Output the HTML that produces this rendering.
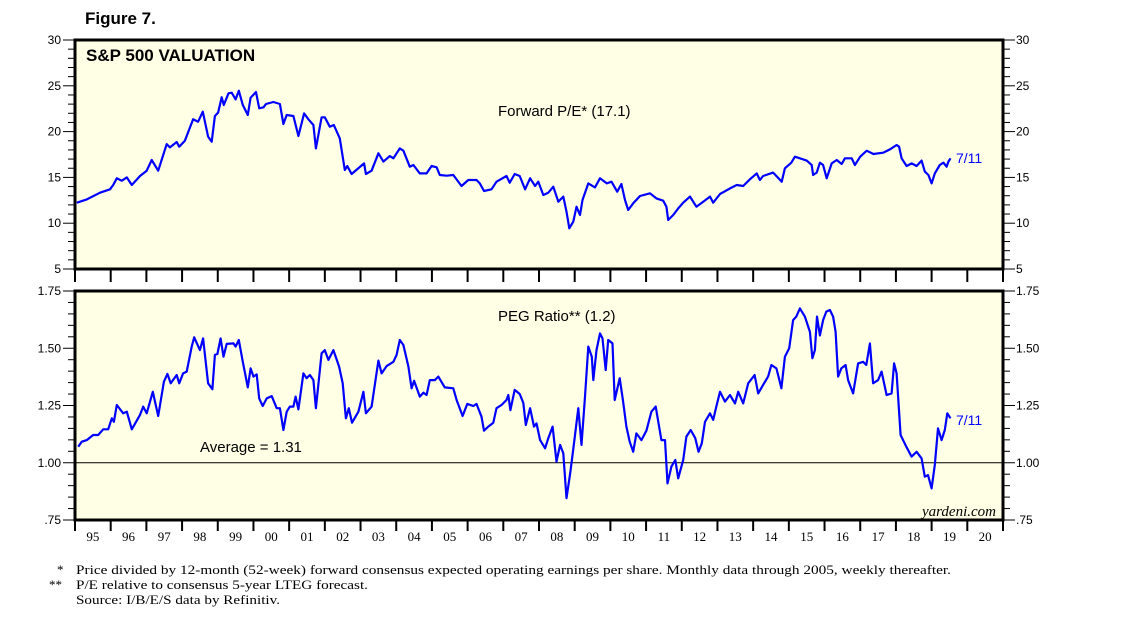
<!DOCTYPE html>
<html><head><meta charset="utf-8"><style>
html,body{margin:0;padding:0;background:#fff;}
svg{display:block;font-family:"Liberation Sans",sans-serif;}
</style></head><body>
<svg id="chart" width="1138" height="621" viewBox="0 0 1138 621" xmlns="http://www.w3.org/2000/svg">
<text x="85" y="24" font-size="17" font-weight="bold">Figure 7.</text>
<g id="topPanel"></g><g id="botPanel"></g><g id="yearAxis"></g>
<text x="57" y="574" font-family="Liberation Serif" font-size="13">*</text>
<text x="76" y="574" font-family="Liberation Serif" font-size="13" textLength="875" lengthAdjust="spacingAndGlyphs">Price divided by 12-month (52-week) forward consensus expected operating earnings per share. Monthly data through 2005, weekly thereafter.</text>
<text x="49" y="589" font-family="Liberation Serif" font-size="13">**</text>
<text x="76" y="589" font-family="Liberation Serif" font-size="13" textLength="292" lengthAdjust="spacingAndGlyphs">P/E relative to consensus 5-year LTEG forecast.</text>
<text x="76" y="604" font-family="Liberation Serif" font-size="13" textLength="204" lengthAdjust="spacingAndGlyphs">Source: I/B/E/S data by Refinitiv.</text>
</svg>
<script>
const peDates=[0.05,0.33,0.70,0.98,1.07,1.17,1.31,1.45,1.59,1.82,2.01,2.15,2.33,2.57,2.66,2.85,2.92,3.08,3.31,3.45,3.58,3.73,3.83,3.92,4.01,4.11,4.17,4.30,4.39,4.50,4.59,4.70,4.84,4.92,5.07,5.16,5.28,5.35,5.56,5.74,5.84,5.93,6.12,6.26,6.42,6.54,6.68,6.75,6.91,7.00,7.14,7.25,7.42,7.56,7.63,7.75,8.10,8.15,8.31,8.50,8.64,8.82,8.92,9.10,9.20,9.38,9.48,9.66,9.85,9.99,10.13,10.22,10.41,10.60,10.83,11.02,11.25,11.34,11.46,11.67,11.81,12.09,12.18,12.32,12.46,12.61,12.75,12.89,12.98,13.12,13.26,13.40,13.54,13.68,13.77,13.85,13.96,14.05,14.15,14.22,14.38,14.57,14.71,14.90,15.03,15.19,15.31,15.41,15.50,15.64,15.83,16.11,16.29,16.48,16.57,16.62,16.76,16.90,17.04,17.23,17.41,17.60,17.79,17.88,18.07,18.35,18.54,18.72,18.91,19.10,19.19,19.28,19.56,19.65,19.80,19.89,20.07,20.17,20.50,20.64,20.68,20.78,20.87,20.96,21.06,21.20,21.34,21.48,21.57,21.76,21.85,22.00,22.18,22.37,22.64,22.83,23.02,23.09,23.16,23.30,23.44,23.58,23.72,23.81,23.91,24.00,24.09,24.23,24.33,24.42,24.47,24.53];
const peValues=[12.24,12.60,13.33,13.70,14.17,14.90,14.64,15.00,14.17,15.15,15.73,16.90,15.73,18.64,18.28,18.86,18.35,19.01,21.34,21.08,22.17,19.45,18.90,21.70,22.07,23.74,22.90,24.18,24.25,23.52,24.47,22.90,21.81,23.70,24.32,22.54,22.65,23.01,23.23,23.01,20.83,21.81,21.70,19.52,21.99,21.34,20.72,18.17,21.56,21.56,20.54,20.72,19.26,15.81,16.24,15.37,16.53,15.37,15.73,17.63,16.72,17.33,17.08,18.17,17.92,16.17,16.35,15.44,15.44,16.24,16.10,15.26,15.19,15.26,14.06,14.72,14.72,14.35,13.51,13.70,14.53,15.15,14.42,15.37,15.15,13.70,14.90,14.06,14.53,13.08,13.33,13.99,12.35,12.90,11.26,9.44,10.17,11.80,10.89,12.53,14.35,13.91,14.90,14.35,14.53,13.44,14.28,12.53,11.44,12.17,12.97,13.26,12.71,12.46,11.80,10.35,10.89,11.62,12.24,12.90,11.80,12.35,12.90,12.24,13.19,13.80,14.17,14.06,14.79,15.44,14.72,15.15,15.52,15.15,14.53,15.99,16.61,17.26,16.83,16.35,15.26,15.52,16.61,16.35,14.90,16.53,16.90,16.46,17.08,17.08,16.35,17.26,17.92,17.55,17.70,18.06,18.54,18.35,17.08,16.24,16.53,16.24,16.83,15.63,15.26,14.35,15.44,16.35,16.61,16.17,16.72,17.08];
const pegDates=[0.09,0.19,0.33,0.51,0.65,0.79,0.93,1.03,1.09,1.17,1.35,1.45,1.59,1.82,1.91,2.01,2.18,2.33,2.49,2.59,2.68,2.85,2.92,3.03,3.13,3.27,3.34,3.50,3.59,3.73,3.85,3.92,3.99,4.08,4.16,4.25,4.44,4.50,4.59,4.70,4.84,4.92,5.00,5.09,5.16,5.26,5.37,5.51,5.65,5.74,5.84,5.93,6.02,6.12,6.18,6.26,6.40,6.49,6.58,6.68,6.75,6.91,7.00,7.10,7.24,7.40,7.50,7.59,7.67,7.76,7.94,8.08,8.15,8.31,8.50,8.59,8.73,8.92,9.01,9.10,9.20,9.34,9.43,9.50,9.66,9.76,9.85,9.94,10.08,10.18,10.36,10.60,10.69,10.86,10.99,11.16,11.25,11.39,11.46,11.58,11.72,11.81,11.95,12.09,12.14,12.20,12.32,12.46,12.56,12.63,12.75,12.86,12.93,13.03,13.17,13.26,13.38,13.49,13.59,13.68,13.77,13.88,13.98,14.10,14.19,14.29,14.38,14.48,14.52,14.61,14.71,14.78,14.87,14.94,15.06,15.12,15.26,15.35,15.45,15.54,15.64,15.73,15.87,16.01,16.15,16.27,16.43,16.53,16.60,16.71,16.82,16.90,17.04,17.13,17.25,17.38,17.47,17.56,17.65,17.79,17.88,17.98,18.07,18.21,18.35,18.49,18.58,18.72,18.86,19.04,19.14,19.28,19.42,19.51,19.65,19.72,19.79,19.89,20.01,20.12,20.21,20.31,20.45,20.59,20.66,20.73,20.79,20.87,20.96,21.05,21.15,21.24,21.31,21.38,21.47,21.59,21.66,21.80,21.94,22.08,22.17,22.27,22.36,22.50,22.60,22.74,22.88,22.95,23.02,23.13,23.29,23.44,23.58,23.72,23.81,23.90,24.00,24.09,24.18,24.28,24.37,24.44,24.53];
const pegValues=[1.070,1.092,1.099,1.121,1.121,1.146,1.146,1.194,1.179,1.252,1.216,1.223,1.146,1.209,1.245,1.216,1.310,1.204,1.354,1.388,1.347,1.383,1.347,1.390,1.398,1.507,1.548,1.492,1.543,1.347,1.321,1.471,1.475,1.543,1.463,1.519,1.521,1.507,1.536,1.441,1.329,1.412,1.376,1.386,1.281,1.248,1.281,1.291,1.238,1.238,1.143,1.223,1.245,1.245,1.289,1.233,1.390,1.369,1.383,1.361,1.238,1.478,1.492,1.449,1.492,1.420,1.347,1.194,1.238,1.175,1.223,1.310,1.216,1.245,1.446,1.390,1.422,1.441,1.471,1.536,1.514,1.420,1.325,1.358,1.289,1.306,1.296,1.361,1.361,1.376,1.329,1.325,1.274,1.204,1.257,1.248,1.257,1.201,1.140,1.158,1.175,1.238,1.252,1.274,1.296,1.230,1.318,1.300,1.262,1.165,1.238,1.158,1.172,1.099,1.063,1.107,1.158,1.005,1.078,1.041,0.845,0.961,1.085,1.238,1.078,1.289,1.507,1.463,1.361,1.492,1.565,1.543,1.405,1.536,1.521,1.274,1.369,1.274,1.158,1.092,1.048,1.128,1.099,1.140,1.223,1.245,1.099,1.099,0.910,0.983,1.012,0.932,1.012,1.114,1.143,1.107,1.048,1.085,1.179,1.216,1.187,1.252,1.310,1.267,1.296,1.259,1.310,1.259,1.347,1.383,1.303,1.340,1.376,1.427,1.412,1.369,1.325,1.463,1.500,1.623,1.638,1.674,1.638,1.572,1.456,1.492,1.638,1.556,1.623,1.660,1.667,1.638,1.572,1.376,1.412,1.427,1.361,1.303,1.434,1.441,1.427,1.521,1.347,1.361,1.398,1.296,1.303,1.434,1.390,1.121,1.070,1.027,1.048,1.019,0.939,0.946,0.888,0.990,1.150,1.099,1.143,1.216,1.194];
const yearLabels=["95","96","97","98","99","00","01","02","03","04","05","06","07","08","09","10","11","12","13","14","15","16","17","18","19","20"];
const peTicks=[5,10,15,20,25,30];
const pegTicks=[0.75,1.00,1.25,1.50,1.75];
const pegAverage=1.0;

const NS="http://www.w3.org/2000/svg";
const L=75,R=1003,YW=(R-L)/26;
function xs(t){return L+t*YW;}
function mk(parent,tag,attrs,text){const e=document.createElementNS(NS,tag);for(const k in attrs)e.setAttribute(k,attrs[k]);if(text!==undefined)e.textContent=text;parent.appendChild(e);return e;}
function panel(g,y0,y1,min,max,minorStep,ticks,fmt,name){
  const ys=v=>y1-(v-min)/(max-min)*(y1-y0);
  const bg=mk(g,'rect',{x:L,y:y0,width:R-L,height:y1-y0,fill:'#ffffe6'});
  
  
  const n=Math.round((max-min)/minorStep);
  for(let i=0;i<=n;i++){const v=min+i*minorStep,y=ys(v);const major=ticks.some(t=>Math.abs(t-v)<1e-6);const len=major?12:7;
    mk(g,'line',{x1:L-len,x2:L,y1:y,y2:y,stroke:'#000','stroke-width':1});
    mk(g,'line',{x1:R,x2:R+len,y1:y,y2:y,stroke:'#000','stroke-width':1});}
  ticks.forEach(t=>{const y=ys(t);
    const a=mk(g,'text',{x:L-14,y:y+4,'font-size':12,'text-anchor':'end'},fmt(t));
    
    
    const b=mk(g,'text',{x:R+13,y:y+4,'font-size':12},fmt(t));
    
    });
  return ys;
}
function series(g,ys,dates,vals,name){
  const d=dates.map((t,i)=>(i?'L':'M')+xs(t).toFixed(1)+','+ys(vals[i]).toFixed(1)).join('');
  const p=mk(g,'path',{d:d,fill:'none',stroke:'#0000ff','stroke-width':2.2,'stroke-linejoin':'round'});
  
  
}
const gTop=document.getElementById('topPanel'),gBot=document.getElementById('botPanel'),gYears=document.getElementById('yearAxis');
const ysTop=panel(gTop,40,269,5,30,1,peTicks,v=>String(v),'pe');
series(gTop,ysTop,peDates,peValues,'forward-pe-line');
mk(gTop,'rect',{x:L,y:40,width:R-L,height:229,fill:'none',stroke:'#000','stroke-width':3});
let t1=mk(gTop,'text',{x:86,y:61,'font-size':17,'font-weight':'bold'},'S&P 500 VALUATION');


let t2=mk(gTop,'text',{x:498,y:116,'font-size':15},'Forward P/E* (17.1)');


let t3=mk(gTop,'text',{x:956,y:163,'font-size':14,fill:'#0000ff'},'7/11');



const ysBot=panel(gBot,291,520,0.75,1.75,0.05,pegTicks,v=>v<1?'.75':v.toFixed(2),'peg');
let av=mk(gBot,'line',{x1:L,x2:R,y1:ysBot(pegAverage),y2:ysBot(pegAverage),stroke:'#000','stroke-width':1});


series(gBot,ysBot,pegDates,pegValues,'peg-ratio-line');
mk(gBot,'rect',{x:L,y:291,width:R-L,height:229,fill:'none',stroke:'#000','stroke-width':3});
let t4=mk(gBot,'text',{x:498,y:321,'font-size':15},'PEG Ratio** (1.2)');


let t5=mk(gBot,'text',{x:200,y:452,'font-size':15},'Average = 1.31');


let t6=mk(gBot,'text',{x:956,y:425,'font-size':14,fill:'#0000ff'},'7/11');


let t7=mk(gBot,'text',{x:996,y:516,'font-size':15,'font-style':'italic','font-family':'Liberation Serif','text-anchor':'end'},'yardeni.com');



for(let i=0;i<=26;i++){const x=xs(i);
  mk(gYears,'line',{x1:x,x2:x,y1:269,y2:282,stroke:'#000','stroke-width':2});
  mk(gYears,'line',{x1:x,x2:x,y1:520,y2:531,stroke:'#000','stroke-width':2});}
yearLabels.forEach((lb,i)=>{const e=mk(gYears,'text',{x:xs(i+0.5),y:541,'font-size':13,'font-family':'Liberation Serif','text-anchor':'middle'},lb);
  
  });
</script>
</body></html>
